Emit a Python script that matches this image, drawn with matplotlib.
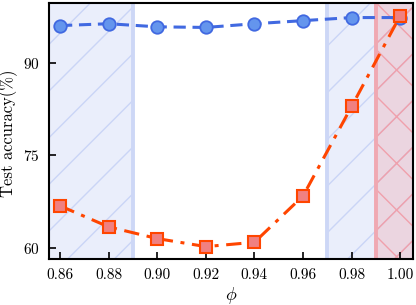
import matplotlib
matplotlib.use("Agg")
import matplotlib.pyplot as plt

DPI = 140
S = 100.0 / DPI  # scale points so layout matches a 100-dpi design

plt.rcParams['font.family'] = 'cmr10'
plt.rcParams['mathtext.fontset'] = 'cm'
plt.rcParams['axes.formatter.use_mathtext'] = True
plt.rcParams['hatch.linewidth'] = 1.0 * S

phi = [0.86, 0.88, 0.90, 0.92, 0.94, 0.96, 0.98, 1.00]
blue_acc = [96.0, 96.3, 95.8, 95.7, 96.3, 96.8, 97.3, 97.3]
red_acc = [66.8, 63.4, 61.5, 60.2, 60.9, 68.4, 82.9, 97.6]
xticks = [0.86, 0.88, 0.90, 0.92, 0.94, 0.96, 0.98, 1.00]
xticklabels = ['0.86', '0.88', '0.90', '0.92', '0.94', '0.96', '0.98', '1.00']
yticks = [60, 75, 90]

fig = plt.figure(figsize=(416 / DPI, 305 / DPI), dpi=DPI)
ax = fig.add_axes([0.118, 0.151, 0.875, 0.84])

xmin, xmax = 0.8555, 1.0053
ax.axvspan(xmin, 0.89, facecolor='#6b8ae8', alpha=0.14, edgecolor='none', zorder=0)
ax.axvspan(xmin, 0.89, facecolor='none', edgecolor='#cad5f6', hatch='/', linewidth=0, zorder=0)
ax.axvline(0.89, color='#cdd7f6', lw=2.8 * S, zorder=0.5)
ax.axvspan(0.97, xmax, facecolor='#6b8ae8', alpha=0.14, edgecolor='none', zorder=0)
ax.axvspan(0.97, xmax, facecolor='none', edgecolor='#cad5f6', hatch='/', linewidth=0, zorder=0)
ax.axvline(0.97, color='#cdd7f6', lw=2.8 * S, zorder=0.5)
ax.axvspan(0.99, xmax, facecolor='#f08080', alpha=0.22, edgecolor='none', zorder=0)
ax.axvspan(0.99, xmax, facecolor='none', edgecolor='#f0a0ac', hatch='x', linewidth=0, zorder=0)
ax.axvline(0.99, color='#f0a8b2', lw=2.8 * S, zorder=0.5)

ax.plot(phi, blue_acc, linestyle='--', color='#4169e1', lw=2.2 * S, dashes=(4, 2.2),
        marker='o', markersize=9 * S, markerfacecolor='#6495ed', markeredgecolor='#4169e1',
        markeredgewidth=1.3 * S, zorder=3)
ax.plot(phi, red_acc, linestyle='-.', color='#ff4500', lw=2.2 * S, dashes=(5, 2.5, 1.3, 2.5),
        marker='s', markersize=9 * S, markerfacecolor='#f08080', markeredgecolor='#ff4500',
        markeredgewidth=1.5 * S, zorder=4)

ax.set_xlim(xmin, xmax)
ax.set_ylim(58.2, 99.7)
ax.set_xticks(xticks)
ax.set_xticklabels(xticklabels)
ax.set_yticks(yticks)
ax.tick_params(direction='in', length=5 * S, width=1.2 * S, labelsize=11 * S, pad=7 * S)
for s in ax.spines.values():
    s.set_linewidth(1.5 * S)
ax.set_xlabel(r'$\phi$', fontsize=13 * S, labelpad=2 * S)
ax.set_ylabel('Test accuracy(%)', fontsize=12 * S)
ax.yaxis.set_label_coords(-0.085, 0.49)

fig.savefig('out.png', dpi=DPI)
